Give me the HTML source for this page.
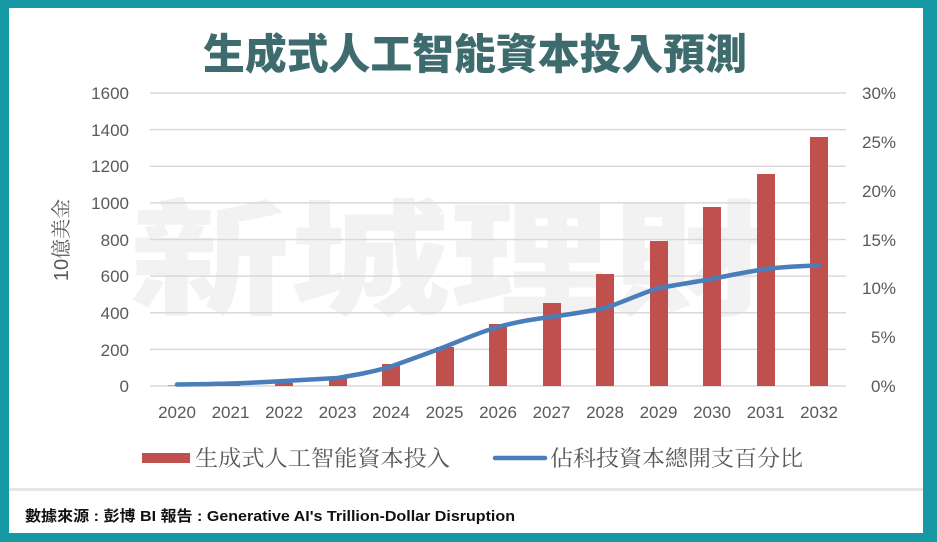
<!DOCTYPE html><html><head><meta charset="utf-8"><style>
body{margin:0;width:937px;height:542px;overflow:hidden;background:#1699a4}
</style></head><body>
<svg width="937" height="542" xmlns="http://www.w3.org/2000/svg" style="position:absolute;left:0;top:0">
<rect x="0" y="0" width="937" height="542" fill="#1699a4"/>
<rect x="9" y="8" width="914" height="525" fill="#fff"/>
<rect x="9" y="488" width="914" height="3" fill="#e6e6e6"/>
<text x="475" y="69" text-anchor="middle" font-family="Noto Sans CJK TC,sans-serif" font-weight="900" font-size="42" fill="#3d6b6e" textLength="544" lengthAdjust="spacingAndGlyphs">生成式人工智能資本投入預測</text>
<text x="450" y="305" text-anchor="middle" font-family="Noto Sans CJK TC,sans-serif" font-weight="900" font-size="125" fill="#f2f2f2" textLength="640" lengthAdjust="spacingAndGlyphs">新城理財</text>
<g stroke="#d9d9d9" stroke-width="1.5">
<line x1="150" x2="846" y1="93" y2="93"/><line x1="150" x2="846" y1="129.6" y2="129.6"/><line x1="150" x2="846" y1="166.25" y2="166.25"/><line x1="150" x2="846" y1="202.9" y2="202.9"/><line x1="150" x2="846" y1="239.5" y2="239.5"/><line x1="150" x2="846" y1="276.1" y2="276.1"/><line x1="150" x2="846" y1="312.75" y2="312.75"/><line x1="150" x2="846" y1="349.4" y2="349.4"/><line x1="150" x2="846" y1="386" y2="386"/>
</g>
<g font-family="Liberation Sans,sans-serif" font-size="17" fill="#595959" text-anchor="end">
<text x="129" y="99">1600</text><text x="129" y="136">1400</text><text x="129" y="172">1200</text><text x="129" y="209">1000</text><text x="129" y="246">800</text><text x="129" y="282">600</text><text x="129" y="319">400</text><text x="129" y="356">200</text><text x="129" y="392">0</text>
</g>
<g font-family="Liberation Sans,sans-serif" font-size="17" fill="#595959" text-anchor="start">
<text x="862" y="99">30%</text><text x="862" y="148">25%</text><text x="862" y="197">20%</text><text x="862" y="246">15%</text><text x="862" y="294">10%</text><text x="871" y="343">5%</text><text x="871" y="392">0%</text>
</g>
<text transform="translate(68,240) rotate(-90)" text-anchor="middle" font-family="Liberation Sans,Noto Serif CJK SC,serif" font-size="20" fill="#595959">10億美金</text>
<g fill="#c0504d">
<rect x="168" y="385.5" width="18" height="0.5"/>
<rect x="222" y="385" width="18" height="1"/>
<rect x="275" y="383" width="18" height="3"/>
<rect x="329" y="378" width="18" height="8"/>
<rect x="382" y="364" width="18" height="22"/>
<rect x="436" y="347" width="18" height="39"/>
<rect x="489" y="324" width="18" height="62"/>
<rect x="543" y="303" width="18" height="83"/>
<rect x="596" y="274" width="18" height="112"/>
<rect x="650" y="241" width="18" height="145"/>
<rect x="703" y="207" width="18" height="179"/>
<rect x="757" y="174" width="18" height="212"/>
<rect x="810" y="137" width="18" height="249"/>
</g>
<path d="M177,384.5 C195,384.3 213,384 230.5,383.5 C248,383 266,382 284,381 C302,380 320,379 337.5,378 C355,375 373,372 391,366.5 C409,360 426,354 444.5,347 C462,340 480,332 498,327 C516,322 533,319 551.5,317 C569,314 587,312 605,308 C623,302 640,294 658.5,288 C676,285 694,282 712,279 C730,275 747,272 765.5,269 C783,267 801,266 819,265.5" fill="none" stroke="#4a7ebb" stroke-width="4.5" stroke-linecap="round"/>
<g font-family="Liberation Sans,sans-serif" font-size="17" fill="#595959" text-anchor="middle">
<text x="177" y="418">2020</text><text x="230.5" y="418">2021</text><text x="284" y="418">2022</text><text x="337.5" y="418">2023</text><text x="391" y="418">2024</text><text x="444.5" y="418">2025</text><text x="498" y="418">2026</text><text x="551.5" y="418">2027</text><text x="605" y="418">2028</text><text x="658.5" y="418">2029</text><text x="712" y="418">2030</text><text x="765.5" y="418">2031</text><text x="819" y="418">2032</text>
</g>
<rect x="142" y="453" width="48" height="10" fill="#c0504d"/>
<text x="195" y="466" font-family="Liberation Sans,Noto Serif CJK SC,serif" font-size="22" fill="#595959" textLength="255" lengthAdjust="spacingAndGlyphs">生成式人工智能資本投入</text>
<line x1="495" x2="545" y1="458" y2="458" stroke="#4a7ebb" stroke-width="4.5" stroke-linecap="round"/>
<text x="550" y="466" font-family="Liberation Sans,Noto Serif CJK SC,serif" font-size="22" fill="#595959" textLength="253" lengthAdjust="spacingAndGlyphs">佔科技資本總開支百分比</text>
<text x="25" y="521" font-family="Liberation Sans,Noto Sans CJK TC,sans-serif" font-weight="bold" font-size="15" fill="#111" textLength="490" lengthAdjust="spacingAndGlyphs">數據來源 : 彭博 BI 報告 : Generative AI's Trillion-Dollar Disruption</text>
</svg>
</body></html>
